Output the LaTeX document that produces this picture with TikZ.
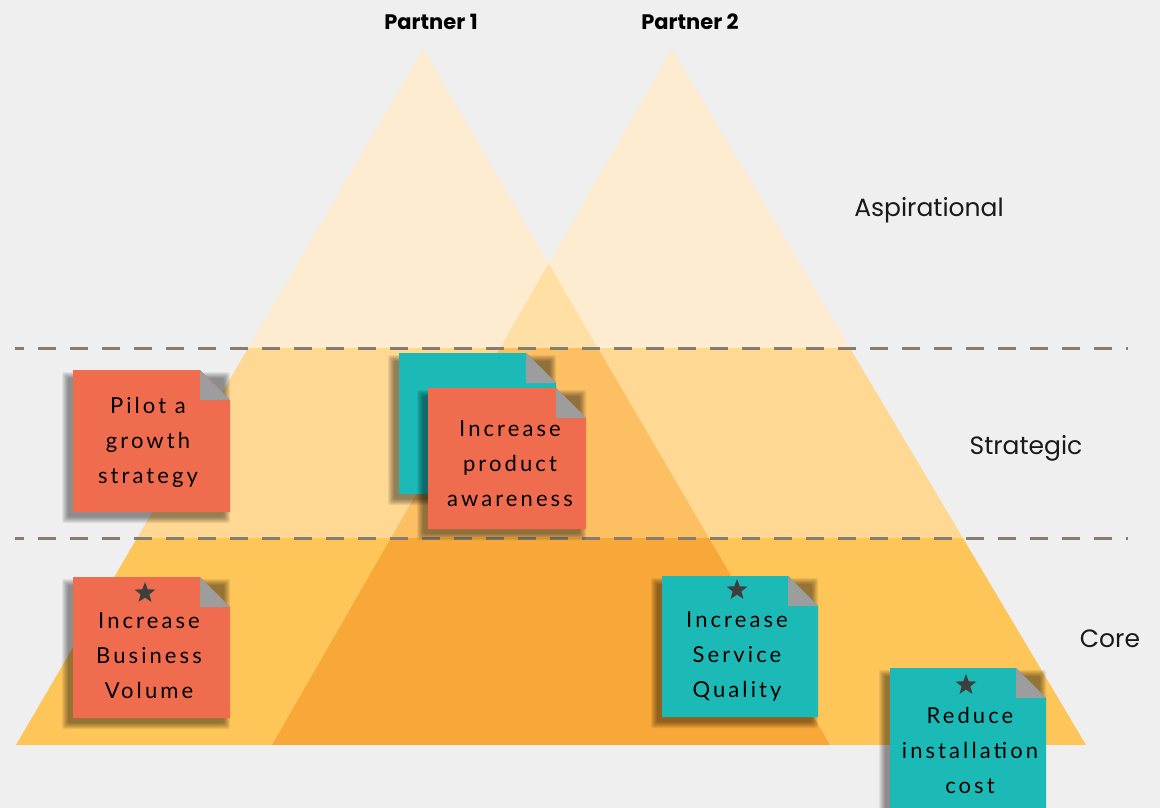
\documentclass[tikz,border=0pt]{standalone}
\usepackage{fontspec}
\setmainfont{Poppins}
\newfontfamily\handfont[LetterSpace=14]{Lato}
\usetikzlibrary{shapes.geometric,calc}
\definecolor{bgc}{HTML}{EFEFEF}
\definecolor{aspA}{HTML}{FEECD1}
\definecolor{aspB}{HTML}{FFDFA4}
\definecolor{strA}{HTML}{FFD994}
\definecolor{strB}{HTML}{FCC063}
\definecolor{corA}{HTML}{FEC559}
\definecolor{corB}{HTML}{F8A839}
\definecolor{noteorange}{HTML}{F06C4F}
\definecolor{noteteal}{HTML}{1BBAB6}
\definecolor{foldgray}{HTML}{9D9D9D}
\definecolor{stargray}{HTML}{3E3E3E}
\definecolor{dashgray}{HTML}{867C72}
\newcommand\stickynote[6]{%
  \foreach \s in {0,1,...,6}{
    \fill[black,opacity=0.07,rounded corners=2pt] ({#2-5-\s},{#3+8-\s}) rectangle ({#4-6+\s},{#5+5+\s});
  }
  \fill[#6] (#2,#3) -- ({#4-30},#3) -- (#4,{#3+30}) -- (#4,#5) -- (#2,#5) -- cycle;
  \fill[foldgray] ({#4-30},#3) -- ({#4-30},{#3+30}) -- (#4,{#3+30}) -- cycle;
  \coordinate (#1) at ($(#2,#3)!0.5!(#4,#5)$);
}
\tikzset{
  notetext/.style={font=\handfont\fontsize{22}{35}\selectfont, align=center, text=black, inner sep=0pt},
  partnerlabel/.style={font=\bfseries\fontsize{21}{24}\selectfont, text=black},
  levellabel/.style={font=\fontsize{25}{28}\selectfont, text=black!90},
  starmark/.style={star, star points=5, star point ratio=2.4, fill=stargray, minimum size=22pt, inner sep=0pt},
  levelline/.style={dashgray, line width=3pt, dash pattern=on 18pt off 14pt, dash phase=9pt}
}
\begin{document}
\begin{tikzpicture}[x=1pt,y=-1pt]
\fill[bgc] (0,0) rectangle (1160,808);
\useasboundingbox (0,0) rectangle (1160,808);
\clip (0,0) rectangle (1160,808);
% triangle corners
\coordinate (p1top) at (423,49);
\coordinate (p1l) at (16,745);
\coordinate (p1r) at (830,745);
\coordinate (p2top) at (672,49);
\coordinate (p2l) at (272,745);
\coordinate (p2r) at (1086,745);
% partner 1
\begin{scope}
  \clip (p1top) -- (p1r) -- (p1l) -- cycle;
  \fill[aspA] (0,0) rectangle (1160,348);
  \fill[strA] (0,348) rectangle (1160,538);
  \fill[corA] (0,538) rectangle (1160,745);
\end{scope}
% partner 2
\begin{scope}
  \clip (p2top) -- (p2r) -- (p2l) -- cycle;
  \fill[aspA] (0,0) rectangle (1160,348);
  \fill[strA] (0,348) rectangle (1160,538);
  \fill[corA] (0,538) rectangle (1160,745);
\end{scope}
% overlap
\begin{scope}
  \clip (p1top) -- (p1r) -- (p1l) -- cycle;
  \clip (p2top) -- (p2r) -- (p2l) -- cycle;
  \fill[aspB] (0,0) rectangle (1160,348);
  \fill[strB] (0,348) rectangle (1160,538);
  \fill[corB] (0,538) rectangle (1160,745);
\end{scope}
% level lines
\coordinate (l1a) at (15,348);
\coordinate (l1b) at (1128,348);
\coordinate (l2a) at (15,538);
\coordinate (l2b) at (1128,538);
\draw[levelline] (l1a) -- (l1b);
\draw[levelline] (l2a) -- (l2b);
% labels
\node[partnerlabel] (lp1) at (431,22) {Partner 1};
\node[partnerlabel] (lp2) at (690,22) {Partner 2};
\node[levellabel] (lasp) at (929,210) {Aspirational};
\node[levellabel] (lstr) at (1026,448) {Strategic};
\node[levellabel] (lcor) at (1110,639) {Core};
% notes
\stickynote{n1}{73}{370}{230}{512}{noteorange}
\node[notetext] (t1) at (148,442) {Pilot a\\growth\\strategy};
\stickynote{n2}{399}{353}{556}{494}{noteteal}
\stickynote{n3}{428}{388}{586}{529}{noteorange}
\node[notetext] (t3) at (510,464) {Increase\\product\\awareness};
\stickynote{n4}{73}{577}{230}{718}{noteorange}
\node[starmark] (s4) at (145,593) {};
\node[notetext] (t4) at (149,656) {Increase\\Business\\Volume};
\stickynote{n5}{662}{576}{818}{717}{noteteal}
\node[starmark] (s5) at (737,590) {};
\node[notetext] (t5) at (737,656) {Increase\\Service\\Quality};
\stickynote{n6}{890}{668}{1046}{840}{noteteal}
\node[starmark] (s6) at (966,685) {};
\node[notetext] (t6) at (970,750) {Reduce\\installation\\cost};
\end{tikzpicture}
\end{document}
